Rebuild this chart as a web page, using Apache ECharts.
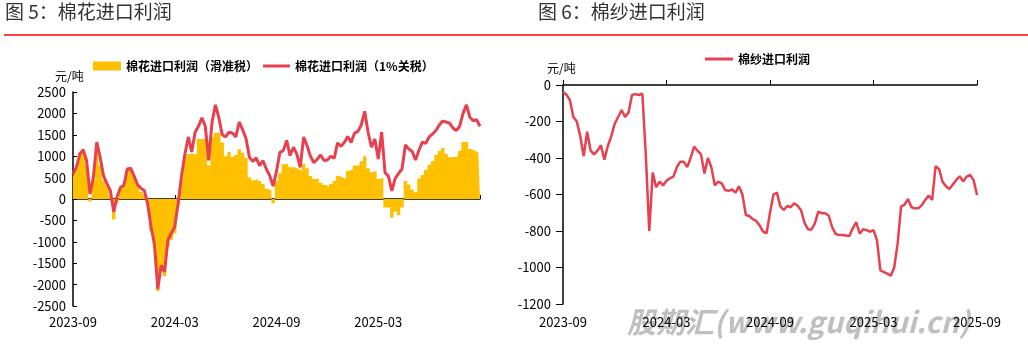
<!DOCTYPE html>
<html>
<head>
<meta charset="utf-8">
<script src="https://cdn.jsdelivr.net/npm/echarts@6/dist/echarts.min.js"></script>
<style>
html, body { margin: 0; padding: 0; background: #fff; }
#chart { width: 1028px; height: 352px; }
</style>
</head>
<body>
<div id="chart"></div>
<script>
// x ticks every 30 points, 121 points per panel
var tickLabels = ['2023-09', '2024-03', '2024-09', '2025-03', '2025-09'];
var tickStep = 30;

// 图5 棉花进口利润（滑准税）
var cottonSlide = [
  500, 700, 1090, 1150, 780, -60, 430, 1250, 780, 430,
  300, 100, -480, -100, 235, 300, 680, 700, 500, 330,
  170, 100, -150, -750, -1100, -2150, -1650, -1800, -1100, -950,
  -800, -150, 470, 1000, 1050, 1050, 1050, 1400, 1400, 1420,
  780, 1450, 1550, 1550, 1320, 1000, 1100, 980, 1030, 1160,
  1080, 960, 500, 440, 470, 420, 350, 240, 200, -100,
  420, 600, 810, 820, 740, 740, 700, 660, 820, 720,
  540, 470, 480, 380, 330, 290, 350, 420, 545, 505,
  470, 660, 700, 780, 780, 880, 1000, 720, 625, 660,
  470, 505, -200, -200, -440, -300, -380, -200, 420, 340,
  215, 160, 480, 560, 680, 800, 880, 1030, 1120, 1190,
  1050, 975, 980, 990, 1130, 1330, 1340, 1170, 1130, 1090,
  1090
];

// 图5 棉花进口利润（1%关税）
var cottonOnePct = [
  585, 740, 1050, 1150, 900, 120, 500, 1330, 975, 545,
  360, 200, -300, 50, 270, 320, 700, 720, 540, 340,
  250, 200, -100, -650, -1050, -2100, -1550, -1700, -950, -800,
  -650, -100, 545, 1050, 1450, 1100, 1560, 1700, 1900, 1700,
  900, 1800, 2200, 1900, 1500, 1450, 1560, 1540, 1450, 1800,
  1620, 1420, 980, 880, 960, 780, 900, 700, 545, 300,
  650, 1090, 1130, 1370, 1015, 1210, 1050, 740, 1450, 1250,
  1000, 850, 930, 1030, 900, 910, 1000, 950, 1310, 1230,
  1320, 1460, 1320, 1540, 1580, 1730, 2050, 1560, 1210, 1400,
  935, 1560, 620, 530, 190, 480, 600, 700, 1260, 1170,
  1110, 910, 1140, 1330, 1300, 1450, 1520, 1600, 1730, 1820,
  1800, 1770, 1660, 1600, 1700, 2000, 2200, 1910, 1830, 1850,
  1700
];

// 图6 棉纱进口利润
var yarnProfit = [
  -37, -53, -82, -175, -200, -280, -390, -256, -360, -380,
  -360, -330, -410, -333, -280, -212, -174, -137, -175, -150,
  -55, -50, -55, -48, -380, -800, -480, -560, -530, -550,
  -525, -511, -502, -450, -420, -420, -450, -400, -338, -360,
  -380, -485, -400, -450, -550, -530, -539, -575, -580, -572,
  -590, -555, -600, -712, -718, -735, -745, -770, -804, -813,
  -700, -600, -590, -665, -685, -663, -670, -648, -662, -686,
  -755, -790, -793, -758, -694, -703, -703, -715, -778, -816,
  -822, -822, -825, -828, -785, -752, -815, -790, -795, -804,
  -795, -850, -1016, -1025, -1034, -1045, -1000, -868, -665, -655,
  -625, -670, -676, -676, -658, -630, -605, -630, -445, -460,
  -530, -555, -570, -545, -520, -500, -528, -502, -493, -520,
  -603
];

var cats = cottonOnePct.map(function (v, i) { return i; });

var RED = '#E8404E';
var GOLD = '#FFC000';
var FONT = '"Noto Sans CJK SC", "Noto Sans", sans-serif';

function tickLabel(hideLast) {
  return function (val, idx) {
    var k = idx / tickStep;
    if (hideLast && k === tickLabels.length - 1) return '';
    return tickLabels[k] || '';
  };
}

function plainNum(v) { return String(v); }

var chart = echarts.init(document.getElementById('chart'));

chart.setOption({
  animation: false,
  textStyle: { fontFamily: FONT },
  graphic: [
    { type: 'text', x: 5, y: 12, style: { text: '图 5：棉花进口利润', font: '19px ' + FONT, fill: '#333', verticalAlign: 'middle', textVerticalAlign: 'middle' } },
    { type: 'text', x: 538, y: 12, style: { text: '图 6：棉纱进口利润', font: '19px ' + FONT, fill: '#333', verticalAlign: 'middle', textVerticalAlign: 'middle' } },
    { type: 'line', shape: { x1: 4, y1: 35, x2: 1028, y2: 35 }, style: { stroke: '#FF0000', lineWidth: 1.5 } },
    { type: 'text', x: 55, y: 76, style: { text: '元/吨', font: '12px ' + FONT, fill: '#000', verticalAlign: 'middle', textVerticalAlign: 'middle' } },
    { type: 'text', x: 547, y: 68, style: { text: '元/吨', font: '12px ' + FONT, fill: '#000', verticalAlign: 'middle', textVerticalAlign: 'middle' } },
    { type: 'text', x: 627, y: 322, z: -5, style: { text: '股期汇(www.guqihui.cn)', font: 'italic bold 29px ' + FONT, fill: '#bfbfbf', verticalAlign: 'middle', textVerticalAlign: 'middle' } }
  ],
  legend: [
    {
      left: 93, top: 60, padding: 0, itemWidth: 28, itemHeight: 9,
      textStyle: { fontSize: 12, fontWeight: 'bold', color: '#000' },
      data: [{ name: '棉花进口利润（滑准税）', icon: 'rect', itemStyle: { color: GOLD } }]
    },
    {
      left: 263, top: 60, padding: 0, itemWidth: 27, itemHeight: 3,
      textStyle: { fontSize: 12, fontWeight: 'bold', color: '#000' },
      data: [{ name: '棉花进口利润（1%关税）', icon: 'rect', itemStyle: { color: RED } }]
    },
    {
      left: 705, top: 53, padding: 0, itemWidth: 28, itemHeight: 3,
      textStyle: { fontSize: 12, fontWeight: 'bold', color: '#000' },
      data: [{ name: '棉纱进口利润', icon: 'rect', itemStyle: { color: RED } }]
    }
  ],
  grid: [
    { left: 73, top: 92, width: 407, height: 214 },
    { left: 563, top: 85, width: 414, height: 219 }
  ],
  xAxis: [
    {
      gridIndex: 0, type: 'category', data: cats, boundaryGap: false,
      axisLine: { show: false, onZero: false }, axisTick: { show: false },
      axisLabel: { interval: tickStep - 1, formatter: tickLabel(true), color: '#000', fontSize: 13, margin: 10 }
    },
    {
      gridIndex: 0, type: 'category', data: cats, boundaryGap: false, position: 'bottom',
      axisLine: { onZero: true, onZeroAxisIndex: 0, lineStyle: { color: '#000', width: 1.5 } },
      axisTick: { inside: true, interval: tickStep - 1, length: 4, lineStyle: { color: '#000' } },
      axisLabel: { show: false }
    },
    {
      gridIndex: 1, type: 'category', data: cats, boundaryGap: false,
      axisLine: { show: false, onZero: false }, axisTick: { show: false },
      axisLabel: { interval: tickStep - 1, formatter: tickLabel(false), color: '#000', fontSize: 13, margin: 12 }
    },
    {
      gridIndex: 1, type: 'category', data: cats, boundaryGap: false, position: 'top',
      axisLine: { onZero: false, lineStyle: { color: '#000', width: 1.5 } },
      axisTick: { interval: tickStep - 1, length: 5, lineStyle: { color: '#000' } },
      axisLabel: { show: false }
    }
  ],
  yAxis: [
    {
      gridIndex: 0, type: 'value', min: -2500, max: 2500, interval: 500,
      splitLine: { show: false },
      axisLine: { show: true, lineStyle: { color: '#000', width: 1.5 } },
      axisTick: { show: true, inside: true, length: 4, lineStyle: { color: '#000' } },
      axisLabel: { color: '#000', fontSize: 13, margin: 7, formatter: plainNum }
    },
    {
      gridIndex: 1, type: 'value', min: -1200, max: 0, interval: 200,
      splitLine: { show: false },
      axisLine: { show: true, lineStyle: { color: '#000', width: 1.5 } },
      axisTick: { show: true, length: 7, lineStyle: { color: '#000' } },
      axisLabel: { color: '#000', fontSize: 13, margin: 12, formatter: plainNum }
    }
  ],
  series: [
    {
      name: '棉花进口利润（滑准税）', type: 'line', xAxisIndex: 0, yAxisIndex: 0,
      data: cottonSlide, step: 'middle', symbol: 'none',
      lineStyle: { width: 0 }, itemStyle: { color: GOLD },
      areaStyle: { color: GOLD, opacity: 1 }, z: 1
    },
    {
      name: '棉花进口利润（1%关税）', type: 'line', xAxisIndex: 0, yAxisIndex: 0,
      data: cottonOnePct, symbol: 'none',
      lineStyle: { width: 3, color: RED }, itemStyle: { color: RED }, z: 3
    },
    {
      name: '棉纱进口利润', type: 'line', xAxisIndex: 2, yAxisIndex: 1,
      data: yarnProfit, symbol: 'none',
      lineStyle: { width: 2.5, color: RED }, itemStyle: { color: RED }, z: 3
    }
  ]
});
</script>
</body>
</html>
